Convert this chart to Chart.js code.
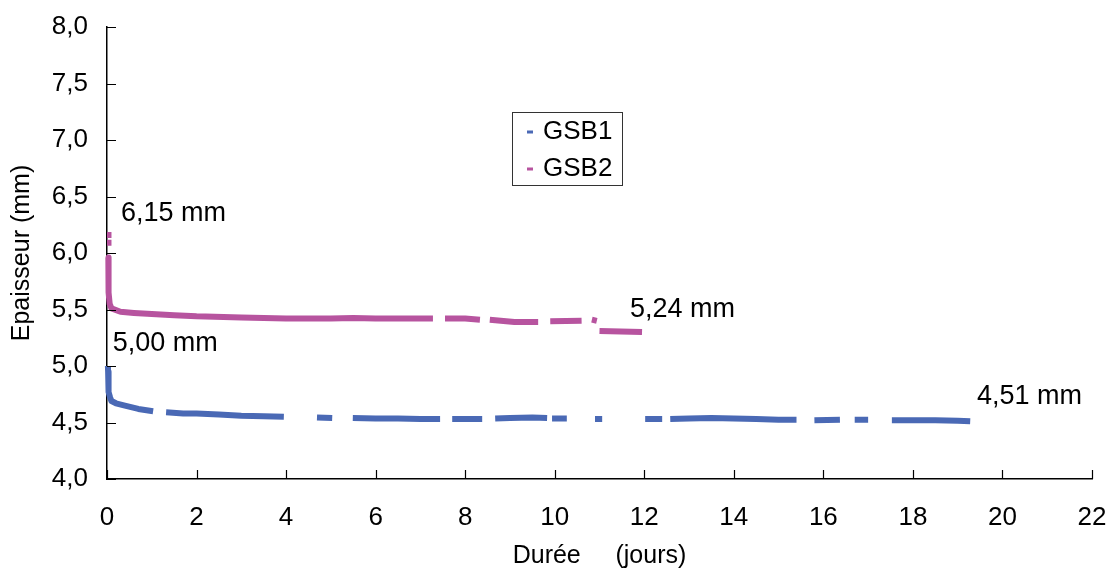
<!DOCTYPE html>
<html>
<head>
<meta charset="utf-8">
<script src="https://cdn.jsdelivr.net/npm/chart.js@4"></script>
<style>
  html, body { margin: 0; padding: 0; background: #fff; }
  #wrap { width: 1109px; height: 572px; }
</style>
</head>
<body>
<div id="wrap"><canvas id="chart" width="1109" height="572"></canvas></div>
<script>
// Epaisseur des GSB en fonction du temps (jours)
// null = trou dans la courbe (pas de mesure)

const gsb1Days = [0.02, 0.025, 0.03, 0.04, 0.07, 0.1, 0.2, 0.4, 0.7, 1.03, 1.15, 1.32, 1.7, 2.0, 2.5, 3.0, 3.5, 3.95, 4.3,
  4.69, 5.03, 5.2, 5.49, 6.0, 6.5, 7.0, 7.44, 7.6, 7.71, 8.0, 8.38, 8.5, 8.67, 9.0, 9.5, 9.83, 9.9,
  9.94, 10.27, 10.5, 10.9, 11.06, 11.5, 12.02, 12.4, 12.5, 12.58, 13.0, 13.5, 14.0, 14.5, 15.0, 15.4, 15.6,
  15.8, 16.37, 16.5, 16.7, 17.0, 17.3, 17.53, 18.0, 18.5, 19.0, 19.28];
const gsb1Values = [5.00, 4.95, 4.86, 4.77, 4.72, 4.69, 4.67, 4.65, 4.62, 4.60, null, 4.59, 4.58, 4.58, 4.57, 4.56, 4.555, 4.55, null,
  4.545, 4.54, null, 4.54, 4.535, 4.535, 4.53, 4.53, null, 4.53, 4.53, 4.53, null, 4.535, 4.54, 4.545, 4.54, null,
  4.535, 4.535, null, 4.53, 4.53, null, 4.53, 4.53, null, 4.53, 4.535, 4.54, 4.535, 4.53, 4.525, 4.525, null,
  4.52, 4.525, null, 4.525, 4.525, null, 4.52, 4.52, 4.52, 4.515, 4.51];

const gsb2Days = [0, 0.1, 0.11, 0, 0.1, 0.11, 0.03, 0.03, 0.04, 0.06, 0.1, 0.3, 0.6, 1.0, 1.5, 2.0, 3.0, 4.0, 5.0, 5.5, 6.0, 7.28, 7.4,
  7.55, 8.0, 8.33, 8.45, 8.55, 9.1, 9.63, 9.75, 9.9, 10.6, 10.7, 10.83, 10.94, 10.97, 11.0, 11.95];
const gsb2Values = [6.16, 6.16, null, 6.09, 6.09, null, 5.96, 5.80, 5.65, 5.55, 5.51, 5.48, 5.47, 5.46, 5.45, 5.44, 5.43, 5.42, 5.42, 5.425, 5.42, 5.42, null,
  5.42, 5.42, 5.41, null, 5.41, 5.39, 5.39, null, 5.395, 5.40, null, 5.41, 5.40, null, 5.31, 5.30];

const xTicks = [0, 2, 4, 6, 8, 10, 12, 14, 16, 18, 20, 22];
const yTicks = [4.0, 4.5, 5.0, 5.5, 6.0, 6.5, 7.0, 7.5, 8.0];

// textes sur le graphe : [jour, valeur, texte]
const notes = [
  [0.31, 6.345, "6,15 mm"],
  [0.13, 5.20, "5,00 mm"],
  [11.68, 5.50, "5,24 mm"],
  [19.43, 4.73, "4,51 mm"]
];

const BLUE = "#4a69b5";
const PINK = "#b7549f";
const FONT = "'Liberation Sans', Arial, sans-serif";

function toPoints(xs, ys) {
  return xs.map((x, i) => ({ x: x, y: ys[i] }));
}

// petits traits vers l'interieur, legende et annotations
const extras = {
  id: "extras",
  afterDraw(chart) {
    const ctx = chart.ctx;
    const xs = chart.scales.x, ys = chart.scales.y;
    const area = chart.chartArea;
    ctx.save();
    ctx.strokeStyle = "#000";
    ctx.lineWidth = 1.2;
    ctx.beginPath();
    xTicks.forEach(t => {
      const px = Math.round(xs.getPixelForValue(t)) + 0.5;
      ctx.moveTo(px, area.bottom);
      ctx.lineTo(px, area.bottom - 9);
    });
    yTicks.forEach(t => {
      const py = Math.round(ys.getPixelForValue(t)) + 0.5;
      ctx.moveTo(area.left, py);
      ctx.lineTo(area.left + 9, py);
    });
    ctx.stroke();

    // annotations
    ctx.fillStyle = "#000";
    ctx.font = "27px " + FONT;
    ctx.textAlign = "left";
    ctx.textBaseline = "middle";
    notes.forEach(n => {
      ctx.fillText(n[2], xs.getPixelForValue(n[0]), ys.getPixelForValue(n[1]));
    });

    // legende
    const lx = 512, ly = 112, lw = 110, lh = 73;
    ctx.fillStyle = "#fff";
    ctx.fillRect(lx, ly, lw, lh);
    ctx.strokeStyle = "#333";
    ctx.lineWidth = 1;
    ctx.strokeRect(lx + 0.5, ly + 0.5, lw, lh);
    ctx.font = "26px " + FONT;
    chart.data.datasets.forEach((ds, i) => {
      const cy = ly + 20 + i * 37;
      ctx.fillStyle = ds.borderColor;
      ctx.fillRect(lx + 15, cy - 1.5, 6, 3);
      ctx.fillStyle = "#000";
      ctx.fillText(ds.label, lx + 31, cy);
    });
    ctx.restore();
  }
};

new Chart(document.getElementById("chart"), {
  type: "scatter",
  data: {
    datasets: [
      { label: "GSB1", data: toPoints(gsb1Days, gsb1Values), borderColor: BLUE, backgroundColor: BLUE },
      { label: "GSB2", data: toPoints(gsb2Days, gsb2Values), borderColor: PINK, backgroundColor: PINK }
    ]
  },
  options: {
    responsive: false,
    animation: false,
    showLine: true,
    spanGaps: false,
    datasets: {
      scatter: { borderWidth: 6, pointRadius: 0, tension: 0, clip: false, borderCapStyle: "butt", borderJoinStyle: "round" }
    },
    layout: { padding: { top: 27, right: 17, left: 0, bottom: 0 } },
    plugins: { legend: { display: false }, tooltip: { enabled: false } },
    scales: {
      x: {
        type: "linear", min: 0, max: 22,
        afterBuildTicks: s => { s.ticks = xTicks.map(v => ({ value: v })); },
        afterFit: s => { s.height = 93; s.paddingLeft = 0; s.paddingRight = 0; },
        grid: { display: false, drawTicks: false },
        border: { display: true, color: "#000", width: 1.5 },
        ticks: { color: "#000", padding: 23, maxRotation: 0, font: { family: FONT, size: 26 } },
        title: { display: true, text: "Durée     (jours)", color: "#000", padding: { top: 0, bottom: 1 }, font: { family: FONT, size: 25 } }
      },
      y: {
        type: "linear", min: 4, max: 8,
        afterBuildTicks: s => { s.ticks = yTicks.map(v => ({ value: v })); },
        afterFit: s => { s.width = 107; s.paddingTop = 0; s.paddingBottom = 0; },
        grid: { display: false, drawTicks: false },
        border: { display: true, color: "#000", width: 1.5 },
        ticks: { color: "#000", padding: 19, font: { family: FONT, size: 26 },
          callback: v => v.toFixed(1).replace(".", ",") },
        title: { display: true, text: "Epaisseur (mm)", color: "#000", padding: { top: 7, bottom: 0 }, font: { family: FONT, size: 25 } }
      }
    }
  },
  plugins: [extras]
});
</script>
</body>
</html>
